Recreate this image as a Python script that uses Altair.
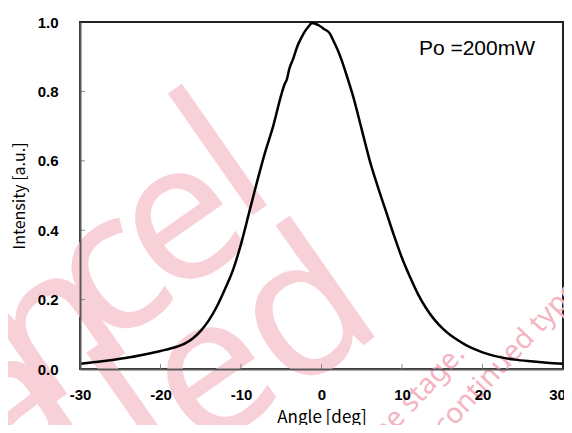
import altair as alt
import pandas as pd

# curve
angle = [-30, -28, -26, -24, -22, -20, -18, -17, -16, -15, -14, -13, -12, -11, -10,
         -9, -8, -7, -6, -5, -4.6, -4.3, -4, -3.5, -3, -2.5, -2, -1.5, -1.2, -0.8,
         -0.3, 0.3, 1, 1.5, 2, 2.5, 3, 4, 5, 6, 7, 8, 9, 10, 11, 12, 13, 14, 15,
         16, 17, 18, 19, 20, 22, 24, 26, 28, 30]
intensity = [0.015, 0.020, 0.026, 0.033, 0.042, 0.052, 0.064, 0.073, 0.088, 0.11, 0.14, 0.18, 0.23, 0.285, 0.36,
             0.45, 0.54, 0.625, 0.70, 0.79, 0.82, 0.835, 0.865, 0.895, 0.93, 0.955, 0.975, 0.99, 0.997, 0.995,
             0.99, 0.98, 0.968, 0.945, 0.92, 0.89, 0.855, 0.78, 0.69, 0.60, 0.525, 0.455, 0.385, 0.32, 0.265, 0.215, 0.175, 0.143, 0.118,
             0.098, 0.082, 0.068, 0.057, 0.048, 0.035, 0.027, 0.022, 0.018, 0.015]

x_ticks = [-30, -20, -10, 0, 10, 20, 30]
y_ticks = [0.0, 0.2, 0.4, 0.6, 0.8, 1.0]

note_text = ["Po =200mW"]
note_x = [12.1]
note_y = [0.905]

# watermark "Cancel / led", one letter at a time
wm_text = ["C", "a", "n", "c", "e", "l", "l", "e", "d"]
wm_x = [-49.5, -38.07, -33.11, -26.27, -17.58, -11.86, -22.0, -13.6, -2.0]
wm_y = [-0.291, -0.118, 0.112, 0.271, 0.424, 0.597, -0.15, -0.02, 0.16]

wm2_text = ["at the stage.", "discontinued type"]
wm2_x = [17.95, 32.1]
wm2_y = [0.04, 0.222]

df = pd.DataFrame({"x": angle, "y": intensity})
note_df = pd.DataFrame({"x": note_x, "y": note_y, "t": note_text})
wm_df = pd.DataFrame({"x": wm_x, "y": wm_y, "t": wm_text})
wm2_df = pd.DataFrame({"x": wm2_x, "y": wm2_y, "t": wm2_text})
xt_df = pd.DataFrame({"x": x_ticks[1:-1], "y": [0.0] * 5, "y2": [0.0145] * 5})
yt_df = pd.DataFrame({"y": y_ticks[1:-1], "x": [-30.0] * 4, "x2": [-29.38] * 4})

xs = alt.Scale(domain=[-30, 30], nice=False, zero=False)
ys = alt.Scale(domain=[0, 1], nice=False, zero=False)

x_axis = alt.Axis(values=x_ticks, labelExpr="toString(datum.value)",
                  labelFont="Liberation Sans", labelFontWeight="bold", labelFontSize=15,
                  labelColor="#000000", labelPadding=18, labelFlush=False, labelOverlap=False,
                  labelOffset={"condition": {"test": "datum.value == 30", "value": -6}, "value": 0},
                  ticks=False, tickSize=0, domainColor="#595959", domainWidth=2, grid=False,
                  title="Angle [deg]", titleFont="Noto Sans CJK JP", titleFontWeight="normal",
                  titleFontSize=17, titleColor="#000000", titleY=53, titleBaseline="alphabetic",
                  zindex=1)
y_axis = alt.Axis(values=y_ticks, format=".1f",
                  labelFont="Liberation Sans", labelFontWeight="bold", labelFontSize=15,
                  labelColor="#000000", labelPadding=22, labelFlush=False, labelOverlap=False,
                  ticks=False, tickSize=0, domainColor="#595959", domainWidth=2, grid=False,
                  title="Intensity [a.u.]", titleFont="Noto Sans CJK JP", titleFontWeight="normal",
                  titleFontSize=16, titleColor="#000000", titleX=-56, titleBaseline="alphabetic",
                  zindex=1)

X = alt.X("x:Q", scale=xs, axis=x_axis)
Y = alt.Y("y:Q", scale=ys, axis=y_axis)

wm = alt.Chart(wm_df).mark_text(font="Noto Sans", fontSize=195, color="#f8d0d8",
                                angle=325, align="center", baseline="middle").encode(x=X, y=Y, text="t:N")
wm2 = alt.Chart(wm2_df).mark_text(font="Noto Sans", fontSize=28, color="#f4b4c2", angle=313,
                                  align="right", baseline="alphabetic").encode(x=X, y=Y, text="t:N")
line = alt.Chart(df).mark_line(color="#000000", strokeWidth=2.5, interpolate="monotone").encode(x=X, y=Y)
xt = alt.Chart(xt_df).mark_rule(color="#8c8c8c", strokeWidth=1).encode(x=X, y=Y, y2="y2:Q")
yt = alt.Chart(yt_df).mark_rule(color="#8c8c8c", strokeWidth=1).encode(x=X, x2="x2:Q", y=Y)
note = alt.Chart(note_df).mark_text(font="Liberation Sans", fontSize=21, color="#000000",
                                    align="left", baseline="alphabetic").encode(x=X, y=Y, text="t:N")

chart = alt.layer(wm, wm2, xt, yt, line, note).properties(
    width=483, height=347,
    autosize=alt.AutoSizeParams(type="none"),
    padding={"left": 72, "top": 14, "right": 1, "bottom": 56},
    background="white",
).configure_view(stroke="#222222", strokeWidth=2)

chart.save("out.html", embed_options={"renderer": "svg", "actions": False})
